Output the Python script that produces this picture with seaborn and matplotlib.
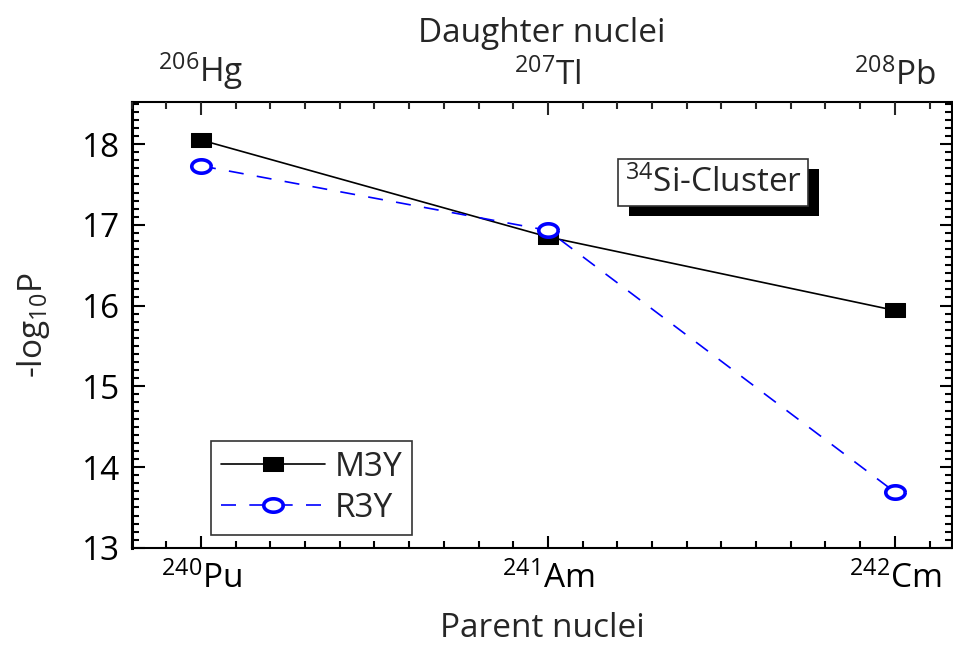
import numpy as np
import pandas as pd
import matplotlib
matplotlib.use("Agg")
import matplotlib.pyplot as plt
import matplotlib.patheffects as pe
from matplotlib.ticker import MultipleLocator
import seaborn as sns

# values
parent_x = [240, 241, 242]
parent_labels = [r"$^{240}$Pu", r"$^{241}$Am", r"$^{242}$Cm"]
daughter_labels = [r"$^{206}$Hg", r"$^{207}$Tl", r"$^{208}$Pb"]
m3y = [18.05, 16.85, 15.94]
r3y = [17.73, 16.93, 13.69]

sns.set_style("ticks")
plt.rcParams["font.family"] = ["Open Sans", "DejaVu Sans"]
plt.rcParams["mathtext.fontset"] = "custom"
plt.rcParams["mathtext.rm"] = "Open Sans"
plt.rcParams["mathtext.it"] = "Open Sans"
plt.rcParams["mathtext.default"] = "regular"

FS = 24

# the reference is stretched sideways, so are its markers
ang = np.linspace(0, 2 * np.pi, 60)
ellipse = list(zip(1.45 * np.cos(ang), np.sin(ang)))
rect = [(-1.45, -1), (1.45, -1), (1.45, 1), (-1.45, 1), (-1.45, -1)]

df = pd.DataFrame({"x": parent_x, "M3Y": m3y, "R3Y": r3y})

fig = plt.figure(figsize=(9.54, 6.46), dpi=100)
ax = fig.add_axes([0.138, 0.152, 0.86, 0.690])

sns.lineplot(data=df, x="x", y="M3Y", ax=ax, color="black", lw=1.2,
             marker=rect, markersize=15, markeredgecolor="black", label="M3Y")
sns.lineplot(data=df, x="x", y="R3Y", ax=ax, color="blue", lw=1.2,
             linestyle=(0, (9, 8)), marker=ellipse, markersize=14,
             markerfacecolor="white", markeredgecolor="blue",
             markeredgewidth=2.6, label="R3Y")

ax.set_xlim(239.8, 242.165)
ax.set_ylim(13, 18.52)
ax.set_xticks(parent_x)
ax.set_xticklabels(parent_labels)
ax.set_yticks([13, 14, 15, 16, 17, 18])
ax.xaxis.set_minor_locator(MultipleLocator(0.1))
ax.yaxis.set_minor_locator(MultipleLocator(0.1))
ax.tick_params(axis="both", which="both", direction="in", labelsize=FS,
               colors="black", width=1.5)
ax.tick_params(which="major", length=9)
ax.tick_params(which="minor", length=5)
ax.tick_params(axis="y", right=True, which="both", pad=8)
ax.tick_params(axis="x", pad=10)
for s in ax.spines.values():
    s.set_linewidth(1.5)
    s.set_color("black")
ax.spines["left"].set_linewidth(2.2)

ax.set_xlabel("Parent nuclei", fontsize=FS, labelpad=12)
ax.set_ylabel(r"-log$_{10}$P", fontsize=FS, labelpad=22)

top = ax.twiny()
top.set_xlim(ax.get_xlim())
top.set_xticks(parent_x)
top.set_xticklabels(daughter_labels)
top.xaxis.set_minor_locator(MultipleLocator(0.1))
top.tick_params(axis="x", which="both", direction="in", labelsize=FS, width=1.5, pad=7)
top.tick_params(which="major", length=9)
top.tick_params(which="minor", length=5)
top.set_xlabel("Daughter nuclei", fontsize=FS, labelpad=6)
for s in top.spines.values():
    s.set_visible(False)

leg = ax.legend(loc="lower left", bbox_to_anchor=(0.097, 0.029), fontsize=FS,
                frameon=True, fancybox=False, edgecolor="#333333",
                handlelength=3.1, borderpad=0.3, labelspacing=0.25,
                handletextpad=0.3, borderaxespad=0)
leg.get_frame().set_linewidth(1.2)
leg.get_frame().set_alpha(1)

t = ax.text(241.476, 17.52, r"$^{34}$Si-Cluster", fontsize=FS, ha="center",
            va="center",
            bbox=dict(boxstyle="square,pad=0.2", facecolor="white",
                      edgecolor="#333333", linewidth=1.2))
t.get_bbox_patch().set_path_effects([
    pe.SimplePatchShadow(offset=(8, -7), shadow_rgbFace="black", alpha=1),
    pe.Normal()])

fig.savefig("out.png", dpi=100)
